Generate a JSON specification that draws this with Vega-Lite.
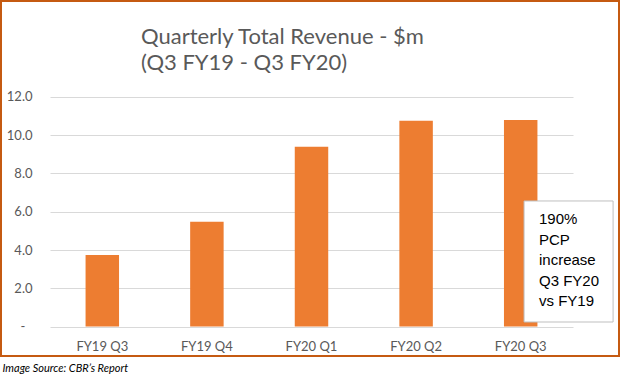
{
  "$schema": "https://vega.github.io/schema/vega-lite/v6.json",
  "width": 618,
  "height": 355,
  "autosize": {"type": "none"},
  "padding": {"left": 1, "top": 1, "right": 5, "bottom": 23},
  "background": "white",
  "config": {
    "view": {"stroke": "#C55A11", "strokeWidth": 2},
    "font": "Lato"
  },
  "title": {
    "text": ["Quarterly Total Revenue - $m", "(Q3 FY19 - Q3 FY20)"],
    "anchor": "start",
    "frame": "group",
    "orient": "top",
    "dx": 140,
    "offset": -74,
    "baseline": "top",
    "font": "Lato",
    "fontSize": 22,
    "fontWeight": "normal",
    "color": "#595959",
    "lineHeight": 26
  },
  "layer": [
    {
      "data": {
        "values": [
          {"quarter": "FY19 Q3", "revenue": 3.74},
          {"quarter": "FY19 Q4", "revenue": 5.48},
          {"quarter": "FY20 Q1", "revenue": 9.39},
          {"quarter": "FY20 Q2", "revenue": 10.75},
          {"quarter": "FY20 Q3", "revenue": 10.79}
        ]
      },
      "mark": {"type": "bar", "color": "#ED7D31"},
      "encoding": {
        "x": {
          "field": "quarter",
          "type": "nominal",
          "sort": null,
          "scale": {
            "domain": ["FY19 Q3", "FY19 Q4", "FY20 Q1", "FY20 Q2", "FY20 Q3"],
            "range": [49, 572],
            "paddingInner": 0.68,
            "paddingOuter": 0.34
          },
          "axis": {
            "labelAngle": 0,
            "domain": false,
            "ticks": false,
            "grid": false,
            "offset": -16,
            "labelPadding": 0,
            "labelFont": "Lato",
            "labelFontSize": 13,
            "labelColor": "#595959",
            "title": "Image Source: CBR’s Report",
            "titleX": 1,
            "titleY": 28,
            "titleAlign": "left",
            "titleBaseline": "middle",
            "titleFont": "Lato",
            "titleFontStyle": "italic",
            "titleFontWeight": "normal",
            "titleFontSize": 11,
            "titleColor": "#000000"
          }
        },
        "y": {
          "field": "revenue",
          "type": "quantitative",
          "scale": {"domain": [0, 12], "nice": false, "range": [325.6, 95.8]},
          "axis": {
            "values": [0, 2, 4, 6, 8, 10, 12],
            "labelExpr": "datum.value == 0 ? '' : format(datum.value, '.1f')",
            "grid": true,
            "gridColor": "#D9D9D9",
            "gridWidth": 1,
            "domain": false,
            "ticks": false,
            "offset": -31,
            "labelPadding": 0,
            "labelFont": "Lato",
            "labelFontSize": 13,
            "labelColor": "#595959",
            "title": null
          }
        }
      }
    },
    {
      "data": {"values": [{"quarter": "FY19 Q3", "zero": 0, "label": "-"}]},
      "mark": {"type": "text", "align": "center", "baseline": "middle", "font": "Lato", "fontSize": 13, "color": "#595959"},
      "encoding": {
        "x": {"field": "quarter", "type": "nominal", "bandPosition": -1.87},
        "y": {"field": "zero", "type": "quantitative"},
        "text": {"field": "label"}
      }
    },
    {
      "data": {"values": [{"quarter": "FY20 Q3", "y0": 0.24, "y1": 6.56}]},
      "mark": {"type": "rect", "fill": "white", "stroke": "#BFBFBF", "strokeWidth": 1},
      "encoding": {
        "x": {"field": "quarter", "type": "nominal", "bandPosition": 0.6},
        "x2": {"field": "quarter", "bandPosition": 3.26},
        "y": {"field": "y0", "type": "quantitative"},
        "y2": {"field": "y1"}
      }
    },
    {
      "data": {"values": [{"quarter": "FY20 Q3", "ypos": 5.6, "note": ["190%", "PCP", "increase", "Q3 FY20", "vs FY19"]}]},
      "mark": {"type": "text", "align": "left", "baseline": "middle", "font": "Liberation Sans", "fontSize": 15, "lineHeight": 20.4, "color": "#000000"},
      "encoding": {
        "x": {"field": "quarter", "type": "nominal", "bandPosition": 1.046},
        "y": {"field": "ypos", "type": "quantitative"},
        "text": {"field": "note"}
      }
    }
  ]
}
